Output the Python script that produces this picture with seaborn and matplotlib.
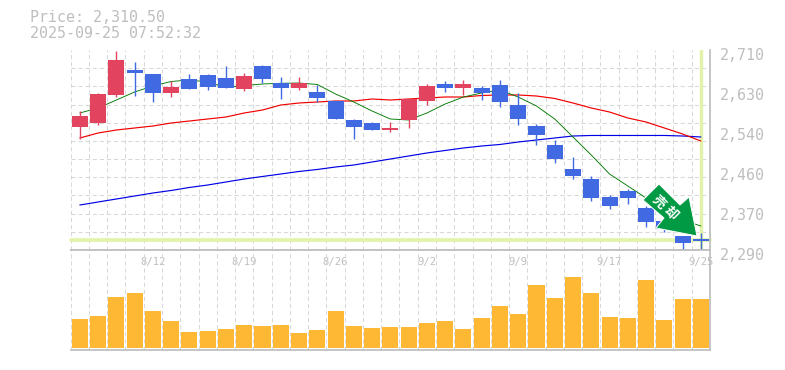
import matplotlib
matplotlib.use("Agg")
import matplotlib.pyplot as plt
import numpy as np
import seaborn as sns
from matplotlib.patches import Polygon
from matplotlib.ticker import FixedLocator
from matplotlib.transforms import Affine2D, ScaledTranslation

# candle data
opens = [2548.3, 2556.7, 2615.5, 2668.0, 2659.6, 2619.7, 2649.1, 2657.5, 2651.2, 2628.1, 2676.4, 2640.7,
         2630.2, 2621.8, 2602.9, 2563.0, 2556.7, 2542.0, 2563.0, 2602.9, 2638.6, 2630.2, 2630.2, 2636.5,
         2594.5, 2550.4, 2510.5, 2460.1, 2439.1, 2401.3, 2413.9, 2378.2, 2350.9, 2319.4, 2313.1]
closes = [2571.4, 2617.6, 2689.0, 2661.7, 2619.7, 2632.3, 2628.1, 2632.3, 2630.2, 2655.4, 2649.1, 2630.2,
          2640.7, 2609.2, 2565.1, 2548.3, 2542.0, 2546.2, 2607.1, 2634.4, 2630.2, 2638.6, 2619.7, 2600.8,
          2565.1, 2531.5, 2481.1, 2445.4, 2399.2, 2382.4, 2399.2, 2348.8, 2334.1, 2304.7, 2308.9]
highs = [2581.9, 2619.7, 2707.9, 2684.8, 2659.6, 2644.9, 2659.6, 2659.6, 2676.4, 2661.7, 2678.5, 2653.3,
         2653.3, 2636.5, 2602.9, 2565.1, 2558.8, 2558.8, 2607.1, 2638.6, 2644.9, 2647.0, 2634.4, 2647.0,
         2619.7, 2554.6, 2521.0, 2485.3, 2445.4, 2405.5, 2418.1, 2382.4, 2363.5, 2319.4, 2325.7]
lows = [2523.1, 2552.5, 2611.3, 2613.4, 2600.8, 2611.3, 2628.1, 2626.0, 2630.2, 2623.9, 2640.7, 2607.1,
        2626.0, 2600.8, 2565.1, 2523.1, 2542.0, 2537.8, 2546.2, 2594.5, 2621.8, 2615.5, 2605.0, 2590.3,
        2552.5, 2510.5, 2472.7, 2439.1, 2392.9, 2376.1, 2386.6, 2338.3, 2327.8, 2290.0, 2292.1]

# moving averages
ma_short = [2577.7, 2588.2, 2605.0, 2621.8, 2634.4, 2643.9, 2647.0, 2642.8, 2631.3, 2635.5, 2638.6, 2640.1,
            2640.7, 2637.6, 2617.6, 2600.8, 2581.9, 2565.1, 2563.0, 2577.7, 2596.6, 2611.3, 2619.7, 2626.0,
            2611.3, 2592.4, 2565.1, 2527.3, 2489.5, 2449.6, 2424.4, 2399.2, 2374.0, 2353.0, 2340.4]
ma_mid = [2525.2, 2535.7, 2542.0, 2546.2, 2550.4, 2556.7, 2560.9, 2565.1, 2569.3, 2577.7, 2584.0, 2594.5,
          2598.7, 2600.8, 2602.9, 2602.9, 2607.1, 2605.0, 2607.1, 2609.2, 2611.3, 2611.3, 2614.5, 2615.5,
          2615.5, 2613.4, 2608.2, 2598.7, 2588.2, 2579.8, 2567.2, 2558.8, 2546.2, 2533.6, 2518.9]
ma_long = [2384.5, 2390.8, 2397.1, 2403.4, 2409.7, 2415.0, 2421.3, 2426.5, 2432.8, 2439.1, 2444.4, 2449.6,
           2454.9, 2459.1, 2464.3, 2468.5, 2474.8, 2481.1, 2487.4, 2493.7, 2499.0, 2504.2, 2508.4, 2511.6,
           2516.8, 2521.0, 2525.2, 2529.4, 2530.5, 2530.5, 2530.5, 2530.5, 2530.5, 2529.4, 2527.3]

# volume, relative heights only (no scale in the picture)
volume = [29, 32, 51, 55, 37, 27, 16, 17, 19, 23, 22, 23, 15, 18, 37, 22, 20, 21,
          21, 25, 27, 19, 30, 42, 34, 63, 50, 71, 55, 31, 30, 68, 28, 49, 49]

price_ticks = [2290, 2374, 2458, 2542, 2626, 2710]
price_labels = ["2,290", "2,370", "2,460", "2,540", "2,630", "2,710"]
date_pos = [4, 9, 14, 19, 24, 29, 34]
date_labels = ["8/12", "8/19", "8/26", "9/2", "9/9", "9/17", "9/25"]
current_price = 2310.5

RED = "#E2435F"
BLUE = "#4169E1"
GRAY = "#BEBEBE"
GRID = "#D8D8D8"
YELLOW = "#E2F2A8"

sns.set_theme(style="white")
plt.rcParams["font.family"] = ["DejaVu Sans Mono"]

fig = plt.figure(figsize=(7.85, 3.7), dpi=100)
left, width = 70.7 / 785, 639.3 / 785
ax = fig.add_axes([left, 120 / 370, width, 200 / 370])
ax_vol = fig.add_axes([left, 20 / 370, width, 100 / 370])

days = np.arange(len(opens))
o, c = np.array(opens), np.array(closes)
colors = [RED if c[i] > o[i] else BLUE for i in days]

ax.axhline(current_price, color=YELLOW, linewidth=2.6, zorder=1.5, clip_on=False)
ax.axvline(days[-1], color=YELLOW, linewidth=2.4, zorder=1.5)

# averages go behind the candles
for ma, col, lw in [(ma_long, "#0000E6", 0.85), (ma_mid, "#F00000", 0.85), (ma_short, "#007A00", 0.65)]:
    sns.lineplot(x=days, y=ma, ax=ax, color=col, linewidth=lw, zorder=2)

ax.vlines(days, lows, highs, color=colors, linewidth=1.0, zorder=3)
ax.bar(days, np.abs(c - o), bottom=np.minimum(o, c), width=0.88, color=colors, linewidth=0, zorder=3)

ax.set_xlim(-0.5, len(opens) - 0.5)
ax.set_ylim(2290, 2710)
ax.set_xticks([])
ax.xaxis.set_minor_locator(FixedLocator(days - 0.5))
ax.yaxis.set_minor_locator(FixedLocator(np.linspace(2290, 2710, 12)))
ax.grid(which="minor", color=GRID, ls=(0, (4, 2.8)), lw=0.75)
ax.set_axisbelow(True)
ax.yaxis.tick_right()
ax.set_yticks(price_ticks, price_labels)
ax.tick_params(axis="y", which="major", length=0, pad=7, labelsize=10.8, colors=GRAY)
ax.tick_params(which="minor", length=0)
shift = ScaledTranslation(0, -3 / 72, fig.dpi_scale_trans)
for lab in ax.get_yticklabels():
    lab.set_transform(lab.get_transform() + shift)

sns.barplot(x=days, y=volume, ax=ax_vol, color="#FFB833", saturation=1, width=0.88, linewidth=0, zorder=3)
ax_vol.set_xlim(-0.5, len(opens) - 0.5)
ax_vol.set_ylim(-2, 98)
ax_vol.set_yticks([])
ax_vol.set_xlabel("")
ax_vol.set_ylabel("")
ax_vol.xaxis.tick_top()
ax_vol.set_xticks(date_pos, date_labels)
ax_vol.xaxis.set_minor_locator(FixedLocator(days - 0.5))
ax_vol.grid(which="minor", axis="x", color=GRID, ls=(0, (4, 2.8)), lw=0.75)
ax_vol.set_axisbelow(True)
ax_vol.tick_params(axis="x", which="major", length=0, pad=-12.2, labelsize=7.6, colors=GRAY)
ax_vol.tick_params(which="minor", length=0)

for a in (ax, ax_vol):
    for side in a.spines:
        a.spines[side].set_color(GRAY)
    a.spines["left"].set_visible(False)
ax.spines["top"].set_visible(False)

# signal arrow, placed in pixels
px = Affine2D().scale(1, -1).translate(0, 370)
arrow = [(659, 184), (643, 200), (664, 218), (656, 228), (697, 236), (689, 197), (680, 205)]
fig.add_artist(Polygon(arrow, closed=True, facecolor="#009944", edgecolor="white", lw=0.7, transform=px, zorder=10))
for x, y, ch in [(659, 202, "売"), (671, 213, "却")]:
    fig.text(x / 785, 1 - y / 370, ch, color="white", fontsize=9.5, fontweight="bold", rotation=-45,
             ha="center", va="center", family=["Noto Sans CJK JP", "DejaVu Sans"], zorder=11)

fig.text(30 / 785, 1 - 18 / 370, "Price: 2,310.50", color=GRAY, fontsize=10.8, va="center")
fig.text(30 / 785, 1 - 33 / 370, "2025-09-25 07:52:32", color=GRAY, fontsize=10.8, va="center")

fig.savefig("out.png", dpi=100, facecolor="white")
